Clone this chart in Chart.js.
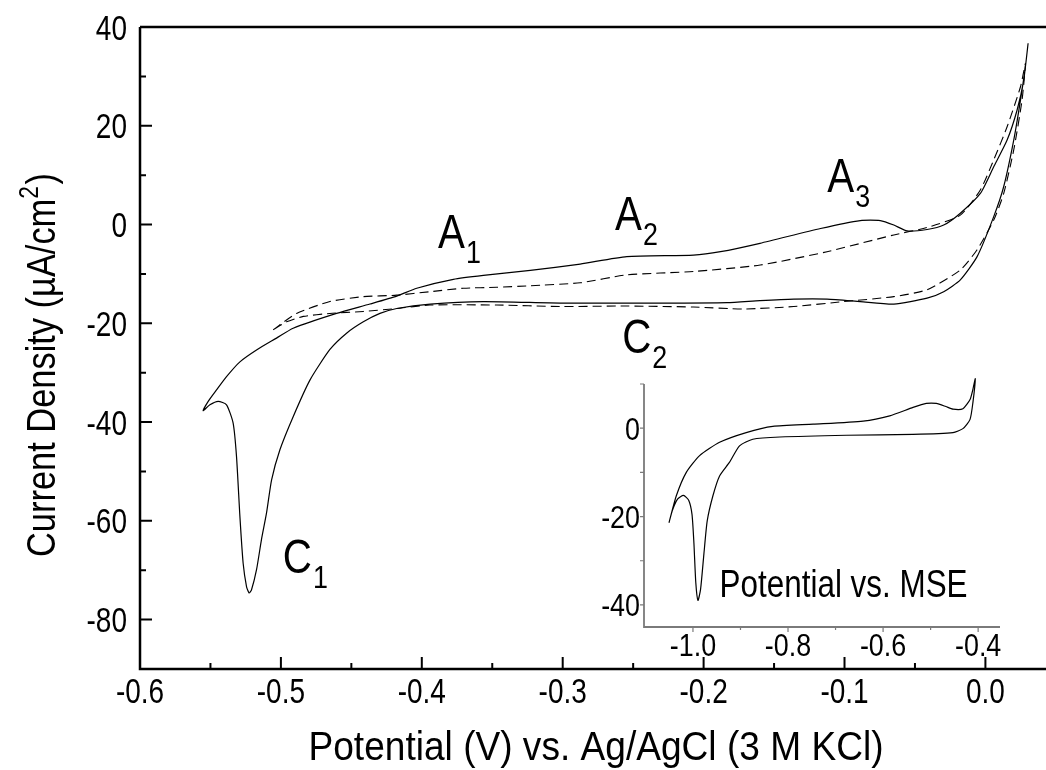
<!DOCTYPE html>
<html>
<head>
<meta charset="utf-8">
<title>Cyclic voltammogram</title>
<script src="https://cdn.jsdelivr.net/npm/chart.js@4.4.1/dist/chart.umd.min.js"></script>
<style>
  body { margin: 0; background: #fff; }
  #wrap { position: relative; width: 1046px; height: 770px; }
  #cvChart { position: absolute; left: 0; top: 0; }
  #insetChart { position: absolute; left: 590px; top: 370px; }
</style>
</head>
<body>
<div id="wrap">
  <canvas id="cvChart" width="1046" height="770"></canvas>
  <canvas id="insetChart" width="440" height="300"></canvas>
</div>
<script>
// main scan (solid): cathodic sweep from the anodic vertex, then back
const solidPotential = [
  0.0303, 0.0284, 0.0249, 0.0201, 0.0130, 0.0059, -0.0059, -0.0178, -0.0296, -0.0414,
  -0.0650, -0.0888, -0.1124, -0.1360, -0.1600, -0.1834, -0.2308, -0.3018, -0.3563, -0.3940,
  -0.4178, -0.4297, -0.4415, -0.4534, -0.4652, -0.4794, -0.4913, -0.5007, -0.5066, -0.5102,
  -0.5138, -0.5173, -0.5209, -0.5226, -0.5244, -0.5268, -0.5291, -0.5315, -0.5339, -0.5386,
  -0.5445, -0.5504, -0.5552,
  -0.5516, -0.5457, -0.5386, -0.5291, -0.5173, -0.5031, -0.4913, -0.4605, -0.4368, -0.4178,
  -0.4036, -0.3776, -0.3563, -0.3230, -0.2876, -0.2545, -0.2072, -0.1880, -0.1600, -0.1170,
  -0.0888, -0.0746, -0.0650, -0.0556, -0.0414, -0.0296, -0.0178, -0.0036, 0.0059, 0.0154,
  0.0225, 0.0272, 0.0303
];
const solidCurrent = [
  36.7, 32.0, 25.2, 17.1, 7.7, 1.6, -6.5, -11.2, -13.6, -14.9,
  -16.1, -15.6, -15.1, -15.1, -15.4, -15.8, -15.9, -15.9, -15.6, -16.1,
  -17.0, -18.0, -19.7, -22.0, -25.3, -31.5, -38.9, -45.6, -51.7, -58.4,
  -63.8, -69.9, -74.0, -74.6, -73.3, -68.6, -59.1, -47.0, -40.2, -36.5,
  -35.8, -36.5, -37.7,
  -35.8, -33.5, -30.8, -27.8, -25.4, -23.0, -21.0, -18.0, -16.1, -14.5,
  -12.9, -11.1, -10.3, -9.3, -8.0, -6.5, -6.2, -5.5, -3.8, -0.8,
  0.8, 0.8, -0.1, -1.3, -1.0, -0.1, 2.3, 6.3, 11.7, 17.1,
  23.2, 29.3, 36.7
];

// second scan (dashed), narrower window
const dashedPotential = [
  -0.5055, -0.4889, -0.4652, -0.4415, -0.4178, -0.3942, -0.3705, -0.3468, -0.3232, -0.2876,
  -0.2545, -0.2072, -0.1598, -0.1124, -0.0650, -0.0414, -0.0178, -0.0036, 0.0059, 0.0154,
  0.0249, 0.0284,
  0.0260, 0.0201, 0.0130, 0.0059, -0.0059, -0.0178, -0.0414, -0.0650, -0.1006, -0.1360,
  -0.1716, -0.2072, -0.2545, -0.3018, -0.3468, -0.3942, -0.4178, -0.4415, -0.4652, -0.4841,
  -0.4960, -0.5055
];
const dashedCurrent = [
  -21.3, -18.0, -15.6, -14.6, -14.3, -13.6, -12.9, -12.7, -12.4, -11.8,
  -10.2, -9.5, -8.2, -5.5, -2.1, -0.6, 1.9, 7.0, 13.1, 19.8,
  27.9, 32.6,
  25.2, 15.1, 6.3, 0.9, -5.1, -9.2, -13.2, -14.6, -15.6, -16.6,
  -17.1, -16.7, -16.5, -16.6, -16.3, -16.3, -17.0, -17.6, -18.0, -18.6,
  -19.7, -21.3
];

// inset: same electrode referenced to MSE
const insetPotential = [
  -1.0505, -1.035, -1.014, -0.986, -0.944, -0.888, -0.832, -0.747, -0.642, -0.586,
  -0.537, -0.509, -0.488, -0.468, -0.453, -0.432, -0.417, -0.411, -0.406,
  -0.411, -0.417, -0.432, -0.453, -0.537, -0.677, -0.817, -0.874, -0.902, -0.923,
  -0.944, -0.958, -0.970, -0.977, -0.984, -0.9895, -0.994, -0.998, -1.002, -1.009,
  -1.020, -1.032, -1.043, -1.0505
];
const insetCurrent = [
  -21.4, -15.3, -10.0, -6.2, -3.2, -1.0, 0.4, 0.9, 1.6, 2.8,
  4.7, 5.6, 5.6, 4.9, 4.3, 4.4, 6.5, 8.8, 11.2,
  5.8, 2.0, -0.1, -1.0, -1.4, -1.6, -2.0, -2.5, -4.0, -7.7,
  -10.8, -15.3, -21.0, -28.5, -36.5, -39.0, -35.0, -26.0, -19.5, -16.3,
  -15.2, -16.0, -18.5, -21.4
];

const xTickValues = [-0.6, -0.5, -0.4, -0.3, -0.2, -0.1, 0.0];
const yTickValues = [-80, -60, -40, -20, 0, 20, 40];
const insetXTickValues = [-1.0, -0.8, -0.6, -0.4];
const insetYTickValues = [-40, -20, 0];

// peak labels: letter, subscript, anchor (potential, current)
const peakLabels = [
  { name: "A", sub: "1", E: -0.3885, j: -4.7 },
  { name: "A", sub: "2", E: -0.2628, j: -1.1 },
  { name: "A", sub: "3", E: -0.1122, j: 6.6 },
  { name: "C", sub: "1", E: -0.4986, j: -70.5 },
  { name: "C", sub: "2", E: -0.2578, j: -26.0 }
];

const FONT = '"Liberation Sans", Arimo, Arial, sans-serif';
const SQUEEZE = 0.82; // condensed lettering

function toPoints(xs, ys) {
  return xs.map((v, i) => ({ x: v, y: ys[i] }));
}
function midpoints(vals) {
  const out = [];
  for (let i = 1; i < vals.length; i++) out.push((vals[i - 1] + vals[i]) / 2);
  return out;
}
function textWidth(ctx, str, size) {
  ctx.font = size + "px " + FONT;
  return ctx.measureText(str).width;
}
// horizontally squeezed text, anchored at (x, y) on the baseline
function drawText(ctx, str, x, y, size, align, squeeze) {
  ctx.save();
  ctx.translate(x, y);
  ctx.scale(squeeze, 1);
  ctx.font = size + "px " + FONT;
  ctx.textAlign = align;
  ctx.textBaseline = "alphabetic";
  ctx.fillStyle = "#000";
  ctx.fillText(str, 0, 0);
  ctx.restore();
}
const fmt1 = v => (Math.abs(v) < 1e-9 ? 0 : v).toFixed(1);

const cvFrame = {
  id: "cvFrame",
  afterDraw(chart) {
    const { ctx, chartArea: a, scales: { x, y } } = chart;
    ctx.save();
    ctx.strokeStyle = "#000";
    ctx.lineWidth = 2.5;
    ctx.beginPath();
    ctx.moveTo(a.left, a.top); ctx.lineTo(a.right, a.top);
    ctx.moveTo(a.left, a.top); ctx.lineTo(a.left, a.bottom); ctx.lineTo(a.right, a.bottom);
    ctx.stroke();

    // tick marks point into the plot
    ctx.lineWidth = 2;
    ctx.beginPath();
    xTickValues.forEach(v => {
      const px = x.getPixelForValue(v);
      ctx.moveTo(px, a.bottom); ctx.lineTo(px, a.bottom - 12);
    });
    midpoints(xTickValues).forEach(v => {
      const px = x.getPixelForValue(v);
      ctx.moveTo(px, a.bottom); ctx.lineTo(px, a.bottom - 6);
    });
    yTickValues.forEach(v => {
      const py = y.getPixelForValue(v);
      ctx.moveTo(a.left, py); ctx.lineTo(a.left + 12, py);
    });
    midpoints(yTickValues).forEach(v => {
      const py = y.getPixelForValue(v);
      ctx.moveTo(a.left, py); ctx.lineTo(a.left + 6, py);
    });
    ctx.stroke();

    // tick labels
    xTickValues.forEach(v => drawText(ctx, fmt1(v), x.getPixelForValue(v), a.bottom + 34, 35, "center", 0.8));
    yTickValues.forEach(v => drawText(ctx, String(v), a.left - 13, y.getPixelForValue(v) + 12.5, 35, "right", 0.8));

    // axis titles
    const xTitle = "Potential (V) vs. Ag/AgCl (3 M KCl)";
    drawText(ctx, xTitle, 596, 760, 41, "center", 575 / textWidth(ctx, xTitle, 41));

    const head = "Current Density (\u00b5A/cm";
    const wHead = textWidth(ctx, head, 41);
    const wSup = textWidth(ctx, "2", 27);
    const wTail = textWidth(ctx, ")", 41);
    const total = wHead + wSup + 2 + wTail;
    const k = 384 / total;
    ctx.save();
    ctx.translate(55, 365);
    ctx.rotate(-Math.PI / 2);
    let cx = -total * k / 2;
    drawText(ctx, head, cx, 0, 41, "left", k);
    cx += wHead * k;
    drawText(ctx, "2", cx, -17, 27, "left", k);
    cx += (wSup + 2) * k;
    drawText(ctx, ")", cx, 0, 41, "left", k);
    ctx.restore();

    // peak labels with subscripts
    peakLabels.forEach(p => {
      const px = x.getPixelForValue(p.E);
      const py = y.getPixelForValue(p.j);
      drawText(ctx, p.name, px, py, 48, "left", 0.84);
      const w = textWidth(ctx, p.name, 48) * 0.84;
      drawText(ctx, p.sub, px + w + 1, py + 15, 32, "left", 0.84);
    });
    ctx.restore();
  }
};

const insetFrame = {
  id: "insetFrame",
  afterDraw(chart) {
    const { ctx, chartArea: a, scales: { x, y } } = chart;
    ctx.save();
    ctx.strokeStyle = "#7a7a7a";
    ctx.lineWidth = 1.8;
    ctx.beginPath();
    ctx.moveTo(a.left, a.top); ctx.lineTo(a.left, a.bottom); ctx.lineTo(a.right, a.bottom);
    ctx.stroke();

    ctx.lineWidth = 1.2;
    ctx.beginPath();
    insetXTickValues.forEach(v => {
      const px = x.getPixelForValue(v);
      ctx.moveTo(px, a.bottom); ctx.lineTo(px, a.bottom + 5);
    });
    midpoints(insetXTickValues).forEach(v => {
      const px = x.getPixelForValue(v);
      ctx.moveTo(px, a.bottom); ctx.lineTo(px, a.bottom + 3);
    });
    insetYTickValues.concat(midpoints(insetYTickValues), [10]).forEach(v => {
      const py = y.getPixelForValue(v);
      ctx.moveTo(a.left, py); ctx.lineTo(a.left - 4, py);
    });
    ctx.stroke();

    insetXTickValues.forEach(v => drawText(ctx, fmt1(v), x.getPixelForValue(v), a.bottom + 29, 32, "center", 0.84));
    insetYTickValues.forEach(v => drawText(ctx, String(v), a.left - 4, y.getPixelForValue(v) + 11.5, 32, "right", 0.84));

    const note = "Potential vs. MSE";
    drawText(ctx, note, x.getPixelForValue(-0.944), y.getPixelForValue(-38.1), 39, "left", 248 / textWidth(ctx, note, 39));
    ctx.restore();
  }
};

const lineStyle = { showLine: true, pointRadius: 0, borderColor: "#000", fill: false, tension: 0.2 };
const hiddenTicks = { display: false };

new Chart(document.getElementById("cvChart"), {
  type: "scatter",
  data: {
    datasets: [
      Object.assign({ data: toPoints(solidPotential, solidCurrent), borderWidth: 1.2 }, lineStyle),
      Object.assign({ data: toPoints(dashedPotential, dashedCurrent), borderWidth: 1.1, borderDash: [9, 5] }, lineStyle)
    ]
  },
  options: {
    responsive: false,
    animation: false,
    layout: { padding: { left: 0, top: 27, right: 0, bottom: 0 } },
    plugins: { legend: { display: false }, tooltip: { enabled: false } },
    scales: {
      x: {
        type: "linear", min: -0.6, max: 0.043,
        afterFit: axis => { axis.height = 101; },
        grid: { display: false, drawTicks: false },
        border: { display: false },
        ticks: hiddenTicks
      },
      y: {
        type: "linear", min: -90, max: 40,
        afterFit: axis => { axis.width = 140; },
        grid: { display: false, drawTicks: false },
        border: { display: false },
        ticks: hiddenTicks
      }
    }
  },
  plugins: [cvFrame]
});

new Chart(document.getElementById("insetChart"), {
  type: "scatter",
  data: {
    datasets: [
      Object.assign({ data: toPoints(insetPotential, insetCurrent), borderWidth: 1.2, clip: false }, lineStyle)
    ]
  },
  options: {
    responsive: false,
    animation: false,
    layout: { padding: { left: 0, top: 14, right: 30, bottom: 0 } },
    plugins: { legend: { display: false }, tooltip: { enabled: false } },
    scales: {
      x: {
        type: "linear", min: -1.103, max: -0.354,
        afterFit: axis => { axis.height = 43; },
        grid: { display: false, drawTicks: false },
        border: { display: false },
        ticks: hiddenTicks
      },
      y: {
        type: "linear", min: -45, max: 10,
        afterFit: axis => { axis.width = 54; },
        grid: { display: false, drawTicks: false },
        border: { display: false },
        ticks: hiddenTicks
      }
    }
  },
  plugins: [insetFrame]
});
</script>
</body>
</html>
